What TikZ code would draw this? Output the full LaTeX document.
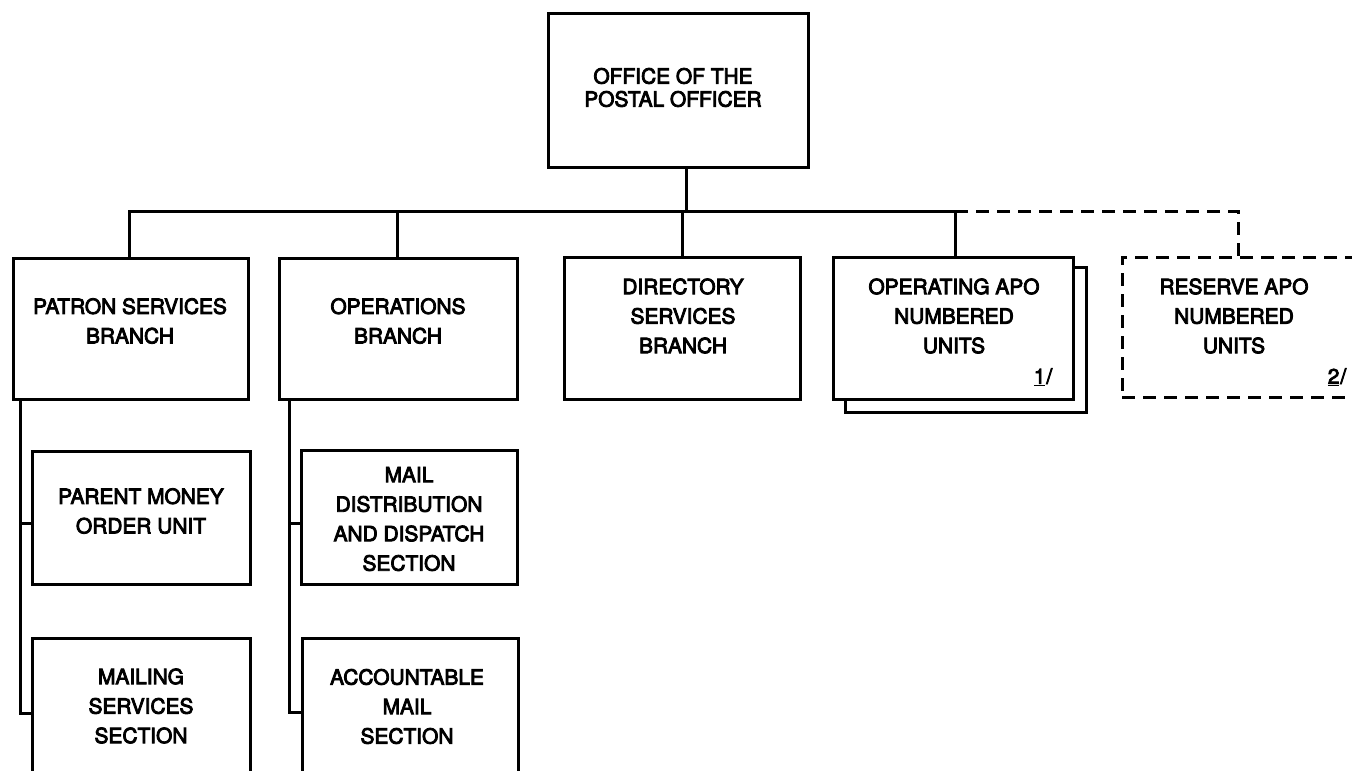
\documentclass[tikz,border=0pt]{standalone}
\usepackage{fontspec}
\setmainfont[FakeBold=4,AutoFakeBold=4]{TeX Gyre Heros}
\begin{document}
\begin{tikzpicture}[x=1pt,y=-1pt,
  box/.style={draw, line width=3pt, rectangle, inner sep=0pt},
  dbox/.style={box, dash pattern=on 13pt off 8pt},
  lbl/.style={align=center, inner sep=0pt, font=\fontsize{20.9}{29.5}\selectfont\bfseries},
  conn/.style={line width=3pt},
  dconn/.style={line width=3pt, dash pattern=on 13pt off 8pt}]
\useasboundingbox (0,0) rectangle (1352,771);
\fill[white] (0,0) rectangle (1352,771);
\clip (0,0) rectangle (1352,771);

% boxes
\node[box, minimum width=260pt, minimum height=154pt] (top) at (678,90) {};
\node[box, minimum width=235pt, minimum height=141pt] (patron) at (130.5,328.5) {};
\node[box, minimum width=238pt, minimum height=141pt] (ops) at (398,328.5) {};
\node[box, minimum width=236pt, minimum height=142pt] (dir) at (682,328.5) {};
\node[box, minimum width=240pt, minimum height=142pt] (opapo) at (953,328) {};
\node[dbox, minimum width=258pt, minimum height=140pt] (res) at (1251,327) {};
\node[box, minimum width=218pt, minimum height=133pt] (parent) at (141,517.5) {};
\node[box, minimum width=218pt, minimum height=164pt] (mailing) at (141,720) {};
\node[box, minimum width=216pt, minimum height=134pt] (maildist) at (409,517) {};
\node[box, minimum width=216pt, minimum height=164pt] (acct) at (410,720) {};

% shadow behind operating APO units
\draw[conn] ([yshift=-12pt]opapo.north east) -- ++(12pt,0) |- ([xshift=14pt,yshift=-12pt]opapo.south west) -- ([xshift=14pt]opapo.south west);

% texts
\node[lbl, font=\fontsize{20.9}{23}\selectfont\bfseries] (tTop) at (673,87.5) {OFFICE OF THE\\POSTAL OFFICER};
\node[lbl] (tPatron) at (130,321) {PATRON SERVICES\\BRANCH};
\node[lbl] (tOps) at (398,321) {OPERATIONS\\BRANCH};
\node[lbl] (tDir) at (683,316) {DIRECTORY\\SERVICES\\BRANCH};
\node[lbl] (tOpapo) at (954,316) {OPERATING APO\\NUMBERED\\UNITS};
\node[lbl] (tRes) at (1234,316) {RESERVE APO\\NUMBERED\\UNITS};
\node[lbl, font=\fontsize{20.9}{26}\selectfont\bfseries] (n1) at (1043,377) {\underline{1}\kern1pt/};
\node[lbl, font=\fontsize{20.9}{26}\selectfont\bfseries] (n2) at (1337,377) {\underline{2}\kern1pt/};
\node[lbl] (tParent) at (141,511) {PARENT MONEY\\ORDER UNIT};
\node[lbl] (tMailing) at (141,706) {MAILING\\SERVICES\\SECTION};
\node[lbl] (tMaildist) at (409,519) {MAIL\\DISTRIBUTION\\AND DISPATCH\\SECTION};
\node[lbl] (tAcct) at (407,706.5) {ACCOUNTABLE\\MAIL\\SECTION};

% connectors
\coordinate (topdrop) at ([xshift=8pt]top.south);
\coordinate (bus) at (686,211);
\coordinate (busR) at (955,211);
\coordinate (resCorner) at (1238,211);
\draw[conn] (topdrop) -- (topdrop |- bus);
\draw[conn] ([xshift=-1.5pt]patron.north) |- (busR) -- (busR |- opapo.north);
\draw[conn] ([xshift=-1pt]ops.north) -- ([xshift=-1pt]ops.north |- bus);
\draw[conn] (dir.north) -- (dir.north |- bus);
\draw[dconn] (busR) -- (resCorner) -- (resCorner |- res.north);

% sub-unit lines
\coordinate (pv) at ([xshift=9pt]patron.south west);
\draw[conn] (pv) |- ([yshift=7pt]mailing.west);
\draw[conn] ([yshift=-5.5pt]parent.west) -- ([yshift=-5.5pt]parent.west -| pv);
\coordinate (ov) at ([xshift=12pt]ops.south west);
\draw[conn] (ov) |- ([yshift=8pt]acct.west);
\draw[conn] ([yshift=-6pt]maildist.west) -- ([yshift=-6pt]maildist.west -| ov);
\end{tikzpicture}
\end{document}
